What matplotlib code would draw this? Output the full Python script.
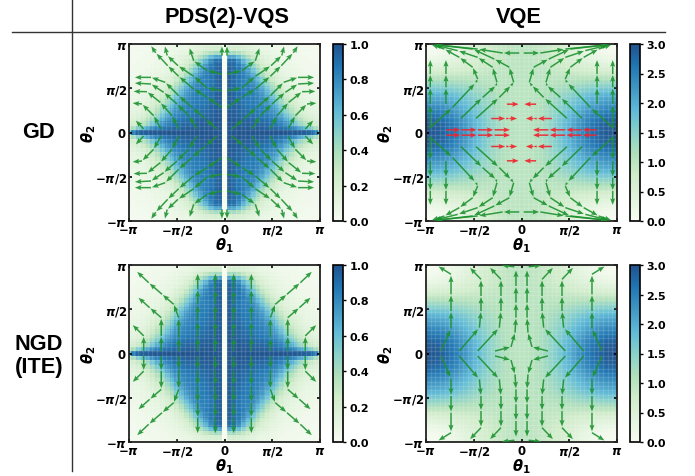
import numpy as np
import matplotlib
matplotlib.use('Agg')
import matplotlib.pyplot as plt
from matplotlib.lines import Line2D

plt.rcParams['font.family'] = 'DejaVu Sans'
plt.rcParams['mathtext.fontset'] = 'dejavusans'

W, H = 695, 477

# PDS landscape, first quadrant, theta1 = i*pi/20 (columns), theta2 = j*pi/20 (rows, top row is pi)
pds_quadrant = [
    [0, .12, .12, .12, .11, .10, .09, .08, .07, .06, .05, .05, .04, .04, .03, .03, .03, .02, .02, .02, .02],
    [0, .22, .22, .21, .19, .16, .13, .11, .09, .08, .07, .06, .05, .05, .04, .04, .03, .03, .03, .02, .02],
    [0, .42, .42, .38, .32, .25, .19, .15, .12, .10, .08, .07, .06, .05, .05, .04, .04, .03, .03, .03, .02],
    [0, .72, .70, .62, .50, .38, .28, .20, .16, .13, .10, .09, .07, .06, .05, .05, .04, .04, .03, .03, .03],
    [0, .92, .90, .80, .66, .52, .38, .27, .20, .15, .12, .10, .08, .07, .06, .05, .05, .04, .04, .03, .03],
    [0, .95, .92, .86, .76, .62, .48, .36, .25, .19, .15, .12, .10, .08, .07, .06, .05, .05, .04, .04, .03],
    [0, .96, .92, .88, .82, .72, .58, .45, .33, .24, .18, .14, .11, .09, .08, .07, .06, .05, .05, .04, .04],
    [0, .96, .92, .88, .85, .78, .68, .55, .42, .30, .22, .17, .13, .11, .09, .08, .07, .06, .05, .05, .04],
    [0, .96, .92, .88, .85, .82, .74, .64, .52, .38, .28, .21, .16, .13, .10, .09, .08, .07, .06, .05, .05],
    [0, .96, .92, .88, .85, .84, .80, .72, .60, .48, .36, .26, .20, .15, .12, .10, .09, .07, .06, .06, .05],
    [0, .96, .93, .89, .86, .85, .82, .77, .68, .56, .44, .33, .24, .18, .14, .12, .10, .08, .07, .06, .06],
    [0, .97, .93, .90, .87, .85, .84, .80, .74, .64, .52, .40, .30, .22, .17, .14, .11, .09, .08, .07, .06],
    [0, .97, .94, .91, .88, .86, .85, .83, .78, .70, .60, .48, .37, .27, .21, .16, .13, .10, .09, .08, .07],
    [0, .97, .95, .92, .89, .87, .86, .84, .81, .75, .67, .56, .44, .33, .25, .19, .15, .12, .10, .09, .08],
    [0, .97, .95, .93, .90, .88, .87, .85, .83, .79, .72, .63, .52, .40, .30, .23, .18, .14, .12, .10, .09],
    [0, .98, .96, .94, .92, .90, .88, .87, .85, .82, .77, .70, .60, .48, .37, .28, .22, .17, .14, .12, .10],
    [0, .98, .97, .95, .93, .92, .90, .89, .87, .85, .81, .76, .68, .57, .45, .35, .27, .21, .17, .14, .12],
    [0, .99, .97, .96, .95, .94, .92, .91, .90, .88, .85, .81, .75, .66, .55, .44, .35, .27, .21, .17, .14],
    [0, .99, .98, .98, .97, .96, .95, .94, .93, .92, .90, .87, .83, .76, .67, .56, .45, .36, .28, .22, .18],
    [0, 1.0, .99, .99, .98, .98, .97, .97, .96, .95, .94, .92, .90, .88, .84, .78, .70, .62, .52, .40, .28],
    [0, 1.0, 1.0, 1.0, 1.0, 1.0, 1.0, 1.0, 1.0, 1.0, 1.0, 1.0, 1.0, 1.0, .98, .98, .97, .96, .93, .85, .55],
]

# VQE energy, first quadrant, steps of pi/10, top row is theta2 = pi
vqe_quadrant = [
    [1.0, .98, .90, .80, .66, .50, .35, .21, .10, .04, .02],
    [1.0, .98, .91, .81, .68, .54, .39, .26, .16, .09, .07],
    [1.0, .98, .93, .85, .75, .65, .53, .44, .36, .31, .29],
    [1.0, .99, .96, .92, .87, .81, .75, .70, .66, .63, .62],
    [1.0, 1.0, 1.0, 1.01, 1.03, 1.05, 1.08, 1.10, 1.12, 1.14, 1.15],
    [1.0, 1.01, 1.05, 1.12, 1.20, 1.30, 1.42, 1.52, 1.60, 1.64, 1.65],
    [1.0, 1.02, 1.09, 1.22, 1.37, 1.54, 1.72, 1.88, 2.00, 2.07, 2.10],
    [1.0, 1.03, 1.13, 1.28, 1.48, 1.69, 1.90, 2.10, 2.25, 2.35, 2.38],
    [1.0, 1.04, 1.16, 1.35, 1.59, 1.85, 2.12, 2.36, 2.55, 2.67, 2.71],
    [1.0, 1.05, 1.18, 1.40, 1.67, 1.96, 2.26, 2.53, 2.75, 2.88, 2.93],
    [1.0, 1.05, 1.19, 1.41, 1.69, 2.00, 2.31, 2.59, 2.81, 2.95, 3.00],
]

# trajectories in the first quadrant, in units of pi, mirrored into the other three
gd_pds_paths = [
    [(.026, .868), (.026, .981)],
    [(.026, .66), (.183, .699), (.323, .811), (.368, .962)],
    [(.026, .472), (.183, .503), (.323, .635), (.487, .755), (.6, .87), (.625, .98)],
    [(.026, .284), (.183, .397), (.323, .491), (.48, .635), (.595, .755), (.72, .9), (.77, .981)],
    [(.079, .04), (.2, .152), (.34, .284), (.48, .416), (.62, .567), (.77, .623), (.951, .623)],
    [(.288, .04), (.375, .19), (.497, .322), (.637, .454), (.77, .548), (.951, .559)],
    [(.48, .04), (.55, .19), (.672, .34), (.812, .461), (.962, .465)],
    [(.665, .04), (.742, .19), (.864, .322), (.969, .333)],
    [(.846, .04), (.934, .141)],
]
gd_vqe_paths = [
    [(.023, .898), (.197, .898), (.459, .943), (.93, .995)],
    [(.476, .16), (.232, .397), (.11, .53), (.082, .567), (.127, .737), (.285, .83), (.511, .943), (.93, .995)],
    [(.634, .16), (.407, .397), (.267, .53), (.257, .567), (.302, .737), (.459, .849), (.668, .925), (.93, .995)],
    [(.965, .046), (.721, .284), (.476, .567), (.459, .605), (.511, .737), (.651, .849), (.808, .943), (.948, .995)],
    [(.791, .322), (.791, .51), (.791, .66), (.791, .83)],
    [(.955, .058), (.955, .322), (.955, .51), (.955, .66), (.955, .83)],
]
gd_vqe_red_paths = [
    [(.787, .03), (.63, .03), (.457, .03), (.282, .03), (.108, .03)],
    [(.317, .158), (.16, .158), (.125, .158), (.04, .158)],
    [(.153, .32), (.02, .32)],
]
ngd_pds_paths = [
    [(.096, .028), (.096, .187), (.096, .367), (.096, .556), (.096, .725), (.096, .913)],
    [(.281, .028), (.281, .187), (.281, .367), (.281, .556), (.281, .725), (.281, .913)],
    [(.48, .028), (.48, .179), (.48, .405), (.532, .556), (.654, .669), (.794, .8), (.923, .932)],
    [(.662, .028), (.662, .199), (.662, .405), (.784, .518), (.909, .638)],
    [(.846, .028), (.846, .199), (.969, .33)],
]
ngd_vqe_paths = [
    [(.277, .028), (.11, .074), (.068, .236), (.058, .405), (.058, .574), (.058, .763), (.058, .951)],
    [(.459, .028), (.232, .292), (.215, .48), (.215, .65), (.215, .838), (.337, .977)],
    [(.651, .028), (.441, .292), (.424, .48), (.424, .65), (.424, .838), (.547, .977)],
    [(.843, .028), (.738, .284), (.738, .48), (.738, .669), (.738, .895), (.878, .989)],
    [(.075, .98), (.215, .998)],
]

pi_ticks = [-np.pi, -np.pi / 2, 0, np.pi / 2, np.pi]
pi_labels = [r'$\boldsymbol{-\pi}$', r'$\boldsymbol{-\pi/2}$', r'$\mathbf{0}$',
             r'$\boldsymbol{\pi/2}$', r'$\boldsymbol{\pi}$']


def mirror(quad):
    quad = np.array(quad)[::-1]  # row 0 is now theta2 = 0
    right = np.hstack([quad[:, :0:-1], quad])
    return np.vstack([right[:0:-1], right])


def px_axes(fig, x0, y0, x1, y1):
    return fig.add_axes([x0 / W, 1 - y1 / H, (x1 - x0) / W, (y1 - y0) / H])


def draw_paths(ax, paths, color, alpha=0.9):
    xs, ys, us, vs = [], [], [], []
    for path in paths:
        p = np.array(path) * np.pi
        for a, b in zip(p[:-1], p[1:]):
            for sx in (1, -1):
                for sy in (1, -1):
                    xs.append(sx * a[0])
                    ys.append(sy * a[1])
                    us.append(sx * (b[0] - a[0]) * 0.93)
                    vs.append(sy * (b[1] - a[1]) * 0.93)
    ax.quiver(xs, ys, us, vs, color=color, alpha=alpha, angles='xy', scale_units='xy', scale=1,
              units='dots', width=1.5, headwidth=3.4, headlength=4.4, headaxislength=3.8,
              zorder=3)


def panel(fig, x0, y0, grid, vmax, cbar_ticks, paths, red_paths=None, smooth=False):
    x1, y1 = x0 + 191, y0 + 177
    ax = px_axes(fig, x0, y0, x1, y1)
    n = grid.shape[0]
    half = np.pi / (n // 2) / 2
    im = ax.imshow(grid, cmap='GnBu', alpha=0.9, vmin=0, vmax=vmax, origin='lower', aspect='auto',
                   extent=(-np.pi - half, np.pi + half, -np.pi - half, np.pi + half),
                   interpolation='bilinear' if smooth else 'nearest', zorder=0)
    ax.set_xlim(-np.pi, np.pi)
    ax.set_ylim(-np.pi, np.pi)
    edges = np.linspace(-np.pi, np.pi, 42)
    ax.set_xticks(edges, minor=True)
    ax.set_yticks(edges, minor=True)
    ax.grid(which='minor', color='white', alpha=0.13, lw=1.0)
    ax.tick_params(which='minor', length=0)
    ax.set_xticks(pi_ticks, pi_labels)
    ax.set_yticks(pi_ticks, pi_labels)
    ax.tick_params(which='major', direction='in', top=True, right=True, length=2, width=1.2,
                   labelsize=8.5, pad=1.5)
    for s in ax.spines.values():
        s.set_linewidth(1.3)
        s.set_color('#222222')
    ax.set_xlabel(r'$\boldsymbol{\theta}_{\mathbf{1}}$', fontsize=10.5, labelpad=-1)
    ax.set_ylabel(r'$\boldsymbol{\theta}_{\mathbf{2}}$', fontsize=10.5, labelpad=-2)
    draw_paths(ax, paths, '#1c9230')
    if red_paths:
        draw_paths(ax, red_paths, '#f0202a')

    cax = px_axes(fig, x1 + 13, y0, x1 + 23, y1)
    cb = fig.colorbar(im, cax=cax)
    cb.set_ticks(cbar_ticks)
    cb.set_ticklabels(['%.1f' % t for t in cbar_ticks], fontweight='bold')
    cb.ax.tick_params(labelsize=8, length=2.5, width=1, pad=2)
    cb.outline.set_linewidth(1.2)


fig = plt.figure(figsize=(W / 100, H / 100), dpi=100)

pds = mirror(pds_quadrant)
vqe = mirror(vqe_quadrant)
pds_ticks = [0, .2, .4, .6, .8, 1.0]
vqe_ticks = [0, .5, 1.0, 1.5, 2.0, 2.5, 3.0]

panel(fig, 129, 45, pds, 1, pds_ticks, gd_pds_paths)
panel(fig, 426, 45, vqe, 3, vqe_ticks, gd_vqe_paths, gd_vqe_red_paths, smooth=True)
panel(fig, 129, 266, pds, 1, pds_ticks, ngd_pds_paths)
panel(fig, 426, 266, vqe, 3, vqe_ticks, ngd_vqe_paths, smooth=True)

fig.add_artist(Line2D([12 / W, 665 / W], [1 - 33 / H, 1 - 33 / H], color='#333333', lw=1))
fig.add_artist(Line2D([72 / W, 72 / W], [1, 1 - 472 / H], color='#333333', lw=1))

head = dict(family='Liberation Sans', fontweight='bold', fontsize=15.7, ha='center', va='center')
fig.text(227.5 / W, 1 - 18 / H, 'PDS(2)-VQS', **head)
fig.text(519 / W, 1 - 18 / H, 'VQE', **head)
fig.text(38 / W, 1 - 133 / H, 'GD', **head)
fig.text(39 / W, 1 - 356 / H, 'NGD\n(ITE)', linespacing=1.15, **head)

fig.savefig('out.png', dpi=100)
